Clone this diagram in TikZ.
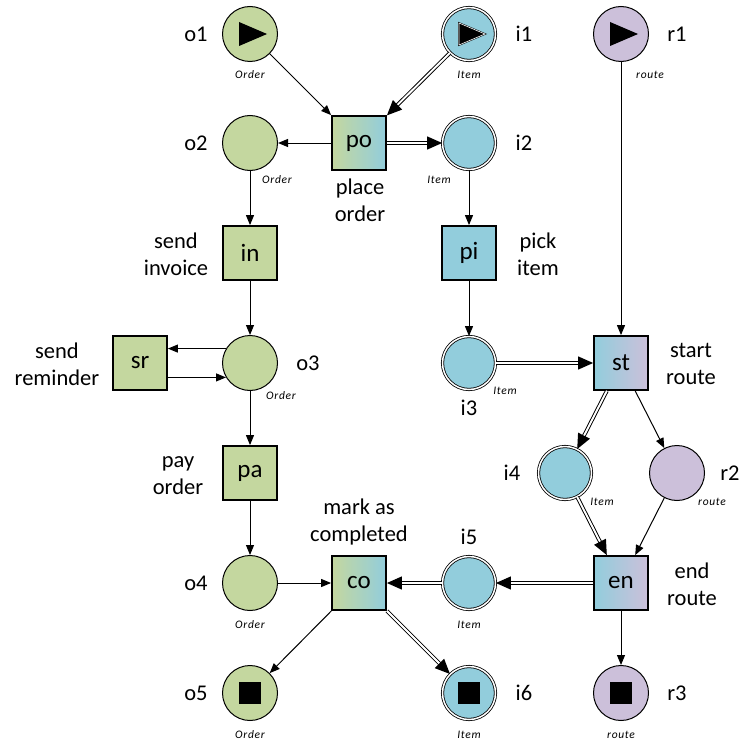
\documentclass[tikz,border=0pt]{standalone}
\usepackage{fontspec}
\setmainfont{Carlito}
\newfontfamily\typefont[LetterSpace=6]{Carlito}
\usetikzlibrary{arrows.meta}
\definecolor{og}{HTML}{C4D79F}
\definecolor{ib}{HTML}{92CDDC}
\definecolor{rp}{HTML}{CCC0DA}
\tikzset{
  place/.style={circle, draw=black, line width=1pt, minimum size=55pt, inner sep=0pt},
  oplace/.style={place, fill=og},
  rplace/.style={place, fill=rp},
  iplace/.style={place, fill=ib, double=white, double distance=1.5pt, line width=0.8pt, minimum size=53pt},
  trans/.style={rectangle, draw=black, line width=1.8pt, minimum size=54pt, inner sep=0pt, font=\fontsize{25}{28}\selectfont},
  gtr/.style={trans, fill=og},
  btr/.style={trans, fill=ib},
  gbtr/.style={trans, left color=og, right color=ib},
  bptr/.style={trans, left color=ib, right color=rp},
  lab/.style={font=\fontsize{22.5}{27}\selectfont, align=center, inner sep=0pt},
  typ/.style={font=\typefont\itshape\fontsize{11.5}{13}\selectfont, inner sep=0pt},
  arc/.style={-{Triangle[length=10pt,width=8pt]}, line width=1pt},
  dline/.style={double=white, double distance=1.8pt, line width=1pt, shorten >=9pt},
  dtip/.style={draw=white, line width=1.2pt, -{Triangle[length=15pt,width=13pt,color=black]}},
}
\newcommand\darcdraw[2]{\draw[dline] (#1) -- (#2); \draw[dtip] (#1) -- (#2);}
\begin{document}
\begin{tikzpicture}[x=1pt,y=-1pt]
\useasboundingbox (0,0) rectangle (741,741);
% places
\node[oplace] (o1) at (250,34) {};
\node[iplace] (i1) at (469,34) {};
\node[rplace] (r1) at (621,34) {};
\node[oplace] (o2) at (250,143) {};
\node[iplace] (i2) at (469,143) {};
\node[oplace] (o3) at (250,363) {};
\node[iplace] (i3) at (469,363) {};
\node[iplace] (i4) at (565,473) {};
\node[rplace] (r2) at (677,473) {};
\node[oplace] (o4) at (250,583) {};
\node[iplace] (i5) at (469,583) {};
\node[oplace] (o5) at (250,693) {};
\node[iplace] (i6) at (469,693) {};
\node[rplace] (r3) at (621,693) {};
% transitions
\node[gbtr] (po) at (359,143) {po};
\node[gtr] (in) at (250,253) {in};
\node[btr] (pi) at (469,253) {pi};
\node[gtr] (sr) at (140,363) {sr};
\node[bptr] (st) at (621,363) {st};
\node[gtr] (pa) at (250,473) {pa};
\node[gbtr] (co) at (359,583) {co};
\node[bptr] (en) at (621,583) {en};
% markers
\fill ([shift={(-11,-12)}]o1.center) -- ([shift={(-11,12)}]o1.center) -- ([shift={(17,0)}]o1.center) -- cycle;
\filldraw[draw=black, double=white, double distance=0.6pt, line width=0.5pt] ([shift={(-10,-11)}]i1.center) -- ([shift={(-10,11)}]i1.center) -- ([shift={(16,0)}]i1.center) -- cycle;
\fill ([shift={(-11,-12)}]r1.center) -- ([shift={(-11,12)}]r1.center) -- ([shift={(17,0)}]r1.center) -- cycle;
\fill ([shift={(-11,-11)}]o5.center) rectangle ([shift={(11,11)}]o5.center);
\fill ([shift={(-11,-11)}]i6.center) rectangle ([shift={(11,11)}]i6.center);
\fill ([shift={(-11,-11)}]r3.center) rectangle ([shift={(11,11)}]r3.center);
% place names
\node[lab] (lo1) at (196,34) {o1};
\node[lab] (li1) at (524,34) {i1};
\node[lab] (lr1) at (677,34) {r1};
\node[lab] (lo2) at (196,143) {o2};
\node[lab] (li2) at (524,143) {i2};
\node[lab] (lo3) at (308,363) {o3};
\node[lab] (li3) at (469,408) {i3};
\node[lab] (li4) at (512,473) {i4};
\node[lab] (lr2) at (730,473) {r2};
\node[lab] (li5) at (469,537) {i5};
\node[lab] (lo4) at (196,583) {o4};
\node[lab] (lo5) at (196,693) {o5};
\node[lab] (li6) at (524,693) {i6};
\node[lab] (lr3) at (677,693) {r3};
% transition labels
\node[lab] (lpo) at (360,200) {place\\order};
\node[lab] (lin) at (176,254) {send\\invoice};
\node[lab] (lpi) at (538,254) {pick\\item};
\node[lab] (lsr) at (57,364) {send\\reminder};
\node[lab] (lst) at (691,364) {start\\route};
\node[lab] (lpa) at (178,476) {pay\\order};
\node[lab] (lco) at (359,522) {mark as\\completed};
\node[lab] (len) at (692,584) {end\\route};
% types
\node[typ] (to1) at (250,75) {Order};
\node[typ] (ti1) at (469,75) {Item};
\node[typ] (tr1) at (650,75) {route};
\node[typ] (to2) at (277,180) {Order};
\node[typ] (ti2) at (439,180) {Item};
\node[typ] (to3) at (281,396) {Order};
\node[typ] (ti3) at (505,391) {Item};
\node[typ] (ti4) at (602,502) {Item};
\node[typ] (tr2) at (712,502) {route};
\node[typ] (to4) at (250,625) {Order};
\node[typ] (ti5) at (469,625) {Item};
\node[typ] (to5) at (250,735) {Order};
\node[typ] (ti6) at (469,735) {Item};
\node[typ] (tr3) at (621,735) {route};
% arcs
\draw[arc] (o1) -- (po);
\darcdraw{i1}{po}
\draw[arc] (po) -- (o2);
\darcdraw{po}{i2}
\draw[arc] (o2) -- (in);
\draw[arc] (i2) -- (pi);
\draw[arc] (in) -- (o3);
\draw[arc] (pi) -- (i3);
\draw[arc] (o3.149) -- (sr.east |- o3.149);
\draw[arc] (sr.east |- o3.211) -- (o3.211);
\draw[arc] (r1) -- (st);
\darcdraw{i3}{st}
\draw[arc] (o3) -- (pa);
\darcdraw{st}{i4}
\draw[arc] (st) -- (r2);
\darcdraw{i4}{en}
\draw[arc] (r2) -- (en);
\draw[arc] (pa) -- (o4);
\darcdraw{en}{i5}
\darcdraw{i5}{co}
\draw[arc] (o4) -- (co);
\draw[arc] (co) -- (o5);
\darcdraw{co}{i6}
\draw[arc] (en) -- (r3);
\end{tikzpicture}
\end{document}
